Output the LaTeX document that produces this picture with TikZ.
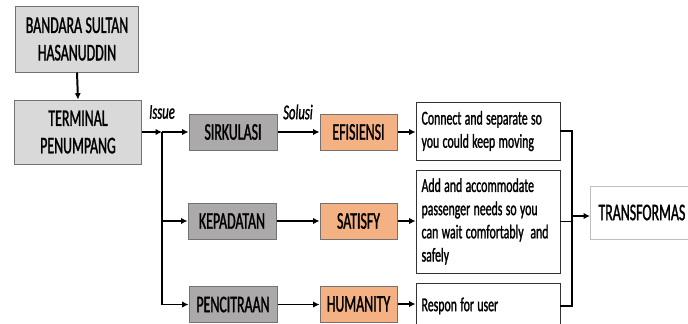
\documentclass[tikz,border=0pt]{standalone}
\usepackage{fontspec}
\setmainfont{Carlito}[FakeStretch=0.6,FakeBold=1.2]
\newfontfamily\headfont{Carlito}[FakeStretch=0.58,FakeBold=1.2]
\usetikzlibrary{arrows.meta}

\newcommand\headsize{\headfont\fontsize{17}{19.5}\selectfont\spaceskip 2.4pt\relax}
\newcommand\notesize{\fontsize{14}{16.5}\selectfont\spaceskip 2.4pt\relax}

\definecolor{lightbox}{RGB}{217,217,217}
\definecolor{darkbox}{RGB}{171,169,169}
\definecolor{orangebox}{RGB}{244,177,131}
\definecolor{boxline}{RGB}{118,113,113}
\definecolor{paleline}{RGB}{190,190,190}

\tikzset{
  boxtext/.style={font=\headsize},
  topbox/.style={boxtext,draw=boxline,fill=lightbox,line width=.7pt,align=flush center},
  issuebox/.style={boxtext,draw=boxline,fill=darkbox,line width=.7pt,minimum width=2.2cm,minimum height=.9cm},
  solbox/.style={boxtext,draw=boxline,fill=orangebox,line width=.7pt,minimum width=1.925cm,minimum height=.9cm},
  textbox/.style={font=\notesize,draw=black!80,line width=.6pt,text width=3.32cm,inner xsep=.14cm,align=flush left},
  flow/.style={line width=1.4pt,-{Latex[length=4.5pt,width=4.5pt]}},
  plain/.style={line width=1.4pt}
}

\begin{document}
\begin{tikzpicture}[x=0.025cm,y=-0.025cm]
\useasboundingbox (0,0) rectangle (688,323);
\clip (0,0) rectangle (688,323);

\node[topbox,minimum width=3.05cm,minimum height=1.65cm] (bandara) at (77,39) {BANDARA SULTAN\\HASANUDDIN};
\node[topbox,minimum width=3.175cm,minimum height=1.6cm] (terminal) at (78,132) {TERMINAL\\PENUMPANG};

\node[issuebox] (sirkulasi) at (233,132) {SIRKULASI};
\node[issuebox] (kepadatan) at (232,221) {KEPADATAN};
\node[issuebox] (pencitraan) at (233,304.5) {PENCITRAAN};

\node[solbox] (efisiensi) at (358.5,132) {EFISIENSI};
\node[solbox] (satisfy) at (358.5,221) {SATISFY};
\node[solbox] (humanity) at (358.5,304) {HUMANITY};

\node[textbox,minimum height=1.45cm] (connect) at (488,131) {Connect and separate so\\you could keep moving};
\node[textbox,minimum height=2.575cm] (accommodate) at (488,221.5) {Add and accommodate\\passenger needs so you\\can wait comfortably~ and\\safely};
\node[textbox,minimum height=1.15cm] (respon) at (488,306) {Respon for user};

\node[boxtext,draw=paleline,line width=.7pt,anchor=west,minimum width=3cm,minimum height=1.325cm,text width=2.7cm,inner xsep=.2cm,align=flush left] (transformasi) at (590,212.5) {TRANSFORMAS};

\node[font=\fontsize{15}{16}\selectfont\itshape] (issuelbl) at (162,112) {Issue};
\node[font=\fontsize{15}{16}\selectfont\itshape] (solusilbl) at (298,112) {Solusi};

\coordinate (branch) at (162,132);
\coordinate (merge) at (572,216);

% kolom kiri
\draw[flow] (bandara.south) -- (terminal.north);
\draw[flow] (terminal.east) -- (branch);
\draw[flow] (branch) -- (sirkulasi.west);
\draw[flow] (branch) |- (kepadatan.west);
\draw[flow] (branch) |- (pencitraan.west);

% issue ke solusi
\draw[flow] (sirkulasi.east) -- (efisiensi.west);
\draw[flow] (kepadatan.east) -- (satisfy.west);
\draw[flow] (pencitraan.east) -- (pencitraan.east -| humanity.west);
\draw[flow] (efisiensi.east) -- (efisiensi.east -| connect.west);
\draw[flow] (satisfy.east) -- (satisfy.east -| accommodate.west);
\draw[flow] (humanity.east) -- (humanity.east -| respon.west);

% gabung ke transformasi
\draw[plain] (connect.east) -| (merge) |- (respon.east);
\draw[plain] (accommodate.east) -- (accommodate.east -| merge);
\draw[flow] (merge) -- (merge -| transformasi.west);
\end{tikzpicture}
\end{document}
